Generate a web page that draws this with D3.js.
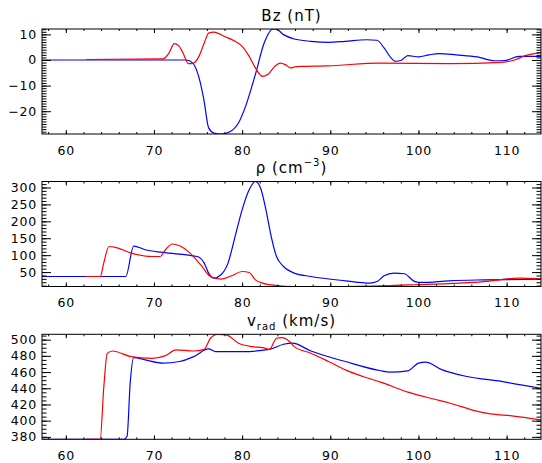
<!DOCTYPE html>
<html>
<head>
<meta charset="utf-8">
<script src="https://cdn.jsdelivr.net/npm/d3@7"></script>
<style>
  body { margin: 0; background: #fff; }
  svg { display: block; }
  text { font-family: "DejaVu Sans", sans-serif; fill: #000; }
</style>
</head>
<body>
<div id="chart"></div>
<script>
// ---- data ----
var xBzBlue = [57.3, 73.7, 74.4, 75.07, 75.66, 76.2, 76.8, 77.6, 78.6, 79.6, 80.4, 81.5, 82.5, 83.5, 83.9, 84.7, 85.9, 87.8, 89.8, 91.7, 94.1, 95.3, 96.1, 96.8, 97.4, 98.0, 98.8, 100.0, 101.2, 102.3, 104.3, 106.7, 108.6, 109.8, 111.4, 113.9];
var bzBlue  = [0, 0, -1.2, -6.4, -15.5, -26.5, -28.5, -28.9, -28, -24.5, -18, -5.7, 6.6, 12.1, 12, 9.9, 8.2, 7.3, 6.9, 7.3, 7.9, 7.7, 4.7, 1.2, -0.5, -0.2, 1.7, 1.2, 2, 2.5, 2, 1.2, -0.3, -0.2, 1.4, 1.4];

var xBzRed = [62.3, 71.0, 71.7, 72.3, 72.8, 73.3, 73.9, 74.5, 75.1, 75.7, 76.2, 76.8, 78.0, 79.2, 80.0, 80.8, 81.5, 82.3, 82.9, 83.7, 84.3, 84.9, 85.5, 86.0, 86.6, 89.7, 95.6, 103.5, 109.4, 111.0, 112.1, 113.9];
var bzRed  = [0.2, 0.4, 2.7, 6.4, 5.6, 2.7, -1.4, -1.2, 1.4, 6.6, 10.5, 10.9, 9.2, 7.3, 5.3, 1.4, -3.1, -6.4, -5.7, -2.5, -1.2, -1.8, -3.1, -2.7, -2.5, -2.3, -1.2, -1.4, -0.9, 0.1, 1.7, 2.9];

var xRhoBlue = [57.3, 66.8, 67.7, 69.0, 71.0, 74.9, 75.7, 76.2, 76.8, 77.6, 78.4, 79.2, 80.0, 80.8, 81.5, 82.1, 82.7, 83.3, 83.9, 84.7, 85.9, 87.8, 91.7, 94.5, 95.3, 96.1, 97.2, 98.4, 99.6, 100.4, 103.5, 107.4, 113.9];
var rhoBlue  = [37, 37, 127, 116, 108, 96, 76.6, 47, 32, 42, 76.6, 155, 234, 293, 317.7, 298, 234, 155, 96, 66.5, 47, 37, 24.3, 17.5, 22, 39, 47, 45, 22, 19.3, 24.3, 27, 29];

var xRhoRed = [62.3, 63.9, 64.3, 64.9, 65.5, 67.4, 69.8, 70.7, 71.3, 72.1, 72.9, 74.1, 75.3, 76.4, 77.6, 78.8, 80.0, 80.8, 81.5, 82.3, 83.9, 85.9, 91.7, 99.6, 107.4, 111.4, 113.9];
var rhoRed  = [37, 37, 76.6, 125.6, 124, 106, 96, 96, 116, 133, 128, 106, 71.6, 37, 29, 39, 51.8, 48.8, 27, 17.5, 10.4, 7.4, 7.4, 12.5, 22, 32, 30];

var xVBlue = [57.3, 66.6, 66.95, 67.3, 67.7, 69.0, 71.0, 72.9, 74.5, 76.2, 77.0, 80.0, 83.1, 84.7, 85.7, 87.8, 91.7, 95.6, 96.8, 98.8, 100.0, 100.8, 102.7, 105.5, 109.4, 113.9];
var vBlue  = [377, 377, 380.7, 446, 477.9, 475, 471, 473, 479, 488.6, 485.2, 485.2, 488, 494.3, 495.6, 486, 473, 461.9, 459.9, 461.5, 471, 472.2, 462.7, 454.5, 448.4, 440];

var xVRed = [62.3, 63.9, 64.3, 64.7, 65.3, 67.4, 69.8, 71.3, 72.5, 74.5, 75.7, 76.4, 77.2, 78.2, 79.6, 81.2, 82.3, 83.1, 83.9, 84.5, 85.3, 85.9, 87.8, 89.8, 91.7, 93.7, 95.7, 98.8, 101.6, 103.5, 106.7, 108.2, 110.6, 113.9];
var vRed  = [377, 377, 440, 483, 486, 479, 477, 480.3, 487.3, 486, 488, 501.7, 506.6, 505.8, 495.6, 491.4, 490.2, 488, 501.7, 502.5, 498.4, 491.4, 483.3, 473, 462.7, 454.5, 447.6, 435.3, 427, 421.8, 411.5, 408.3, 406, 401];

var xDomain = [57.3, 113.9];
var xTicks = [60, 70, 80, 90, 100, 110];

var bzTicks = [-20, -10, 0, 10];
var rhoTicks = [50, 100, 150, 200, 250, 300];
var vTicks = [380, 400, 420, 440, 460, 480, 500];

// ---- layout ----
var width = 542, height = 463;
var left = 42, right = 541, panelH = 105;

var svg = d3.select("#chart").append("svg")
    .attr("width", width)
    .attr("height", height);

var x = d3.scaleLinear().domain(xDomain).range([left, right]);

var panels = [
    { top: 29,    yDomain: [-28.9, 12.1], ticks: bzTicks,  minor: 1,  title: "bz",
      series: [[xBzBlue, bzBlue, "#0000ff"], [xBzRed, bzRed, "#ff0000"]] },
    { top: 181.5, yDomain: [7.4, 317.7],  ticks: rhoTicks, minor: 10, title: "rho",
      series: [[xRhoBlue, rhoBlue, "#0000ff"], [xRhoRed, rhoRed, "#ff0000"]] },
    { top: 334.3, yDomain: [377, 506.6],  ticks: vTicks,   minor: 5,  title: "v",
      series: [[xVBlue, vBlue, "#0000ff"], [xVRed, vRed, "#ff0000"]] }
];

var minorX = d3.range(58, 114, 2);

panels.forEach(function(p, i) {
    var top = p.top, bottom = p.top + panelH;
    var y = d3.scaleLinear().domain(p.yDomain).range([bottom, top]);

    var clipId = "clip" + i;
    svg.append("clipPath").attr("id", clipId)
        .append("rect")
        .attr("x", left).attr("y", top)
        .attr("width", right - left).attr("height", panelH);

    // curves
    var g = svg.append("g").attr("clip-path", "url(#" + clipId + ")");
    p.series.forEach(function(s) {
        var pts = s[0].map(function(v, k) { return [v, s[1][k]]; });
        var line = d3.line()
            .x(function(d) { return x(d[0]); })
            .y(function(d) { return y(d[1]); })
            .curve(d3.curveMonotoneX);
        g.append("path")
            .datum(pts)
            .attr("d", line)
            .attr("fill", "none")
            .attr("stroke", s[2])
            .attr("stroke-width", 1.2);
    });

    // minor y ticks
    var yMinor = d3.range(Math.ceil(p.yDomain[0] / p.minor) * p.minor, p.yDomain[1], p.minor);
    [[d3.axisLeft, left], [d3.axisRight, right]].forEach(function(a) {
        svg.append("g")
            .attr("transform", "translate(" + a[1] + ",0)")
            .call(a[0](y).tickValues(yMinor).tickSize(-4.5).tickFormat(""))
            .call(function(s) { s.select(".domain").remove(); });
    });
    [[d3.axisBottom, bottom], [d3.axisTop, top]].forEach(function(a) {
        svg.append("g")
            .attr("transform", "translate(0," + a[1] + ")")
            .call(a[0](x).tickValues(minorX).tickSize(-2).tickFormat(""))
            .call(function(s) { s.select(".domain").remove(); });
    });

    // major ticks + labels
    svg.append("g")
        .attr("transform", "translate(" + left + ",0)")
        .call(d3.axisLeft(y).tickValues(p.ticks).tickSize(-9).tickPadding(5).tickFormat(d3.format("d")))
        .call(function(s) {
            s.select(".domain").remove();
            s.selectAll("text").attr("font-size", 12.5).attr("letter-spacing", 0.8)
                .attr("font-family", "DejaVu Sans");
        });
    svg.append("g")
        .attr("transform", "translate(" + right + ",0)")
        .call(d3.axisRight(y).tickValues(p.ticks).tickSize(-9).tickFormat(""))
        .call(function(s) { s.select(".domain").remove(); });
    svg.append("g")
        .attr("transform", "translate(0," + bottom + ")")
        .call(d3.axisBottom(x).tickValues(xTicks).tickSize(-4).tickPadding(12).tickFormat(d3.format("d")))
        .call(function(s) {
            s.select(".domain").remove();
            s.selectAll("text").attr("font-size", 12.5).attr("letter-spacing", 0.8)
                .attr("font-family", "DejaVu Sans");
        });
    svg.append("g")
        .attr("transform", "translate(0," + top + ")")
        .call(d3.axisTop(x).tickValues(xTicks).tickSize(-4).tickFormat(""))
        .call(function(s) { s.select(".domain").remove(); });

    // frame
    svg.append("rect")
        .attr("x", left).attr("y", top)
        .attr("width", right - left).attr("height", panelH)
        .attr("fill", "none")
        .attr("stroke", "#000")
        .attr("stroke-width", 1);

    // title
    var t = svg.append("text")
        .attr("x", (left + right) / 2)
        .attr("y", top - 8.5)
        .attr("text-anchor", "middle")
        .attr("font-size", 15)
        .attr("letter-spacing", 1);
    if (p.title === "bz") {
        t.text("Bz (nT)");
    } else if (p.title === "rho") {
        t.append("tspan").text("\u03c1 (cm");
        t.append("tspan").attr("font-size", 10).attr("dy", -7).text("\u22123");
        t.append("tspan").attr("dy", 7).text(")");
    } else {
        t.append("tspan").text("v");
        t.append("tspan").attr("font-size", 10).attr("dy", 4).text("rad");
        t.append("tspan").attr("dy", -4).text(" (km/s)");
    }
});
</script>
</body>
</html>
